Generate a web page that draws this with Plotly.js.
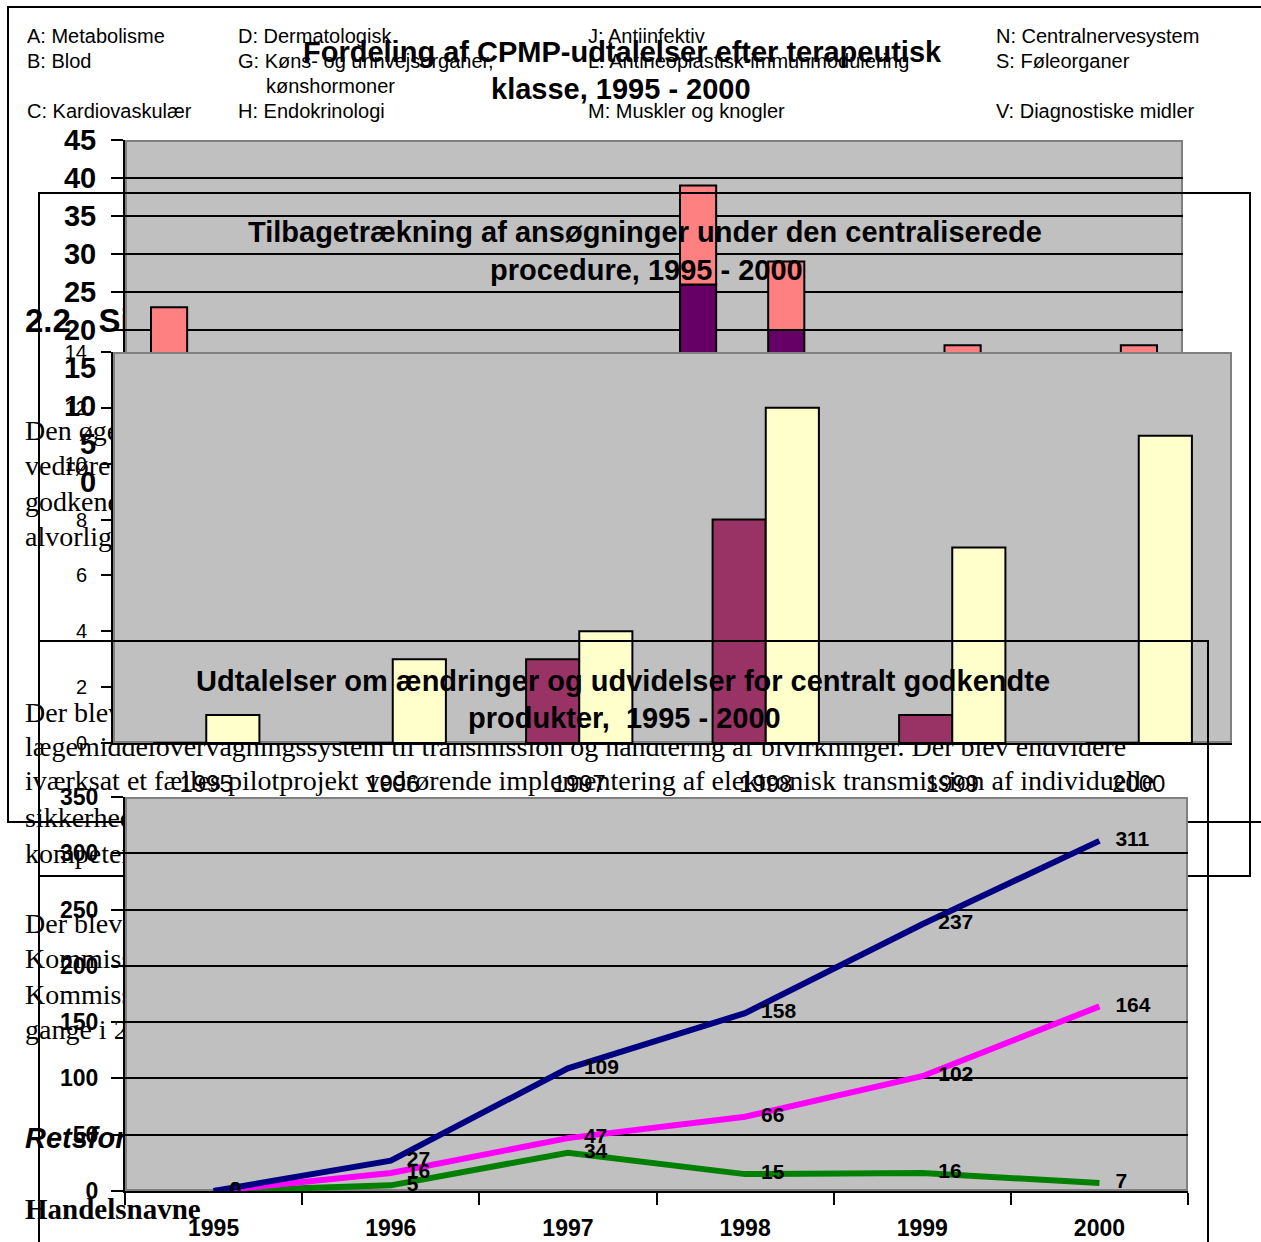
<!DOCTYPE html>
<html>
<head>
<meta charset="utf-8">
<script src="https://cdn.plot.ly/plotly-3.0.1.min.js"></script>
<style>
html,body{margin:0;padding:0;background:#ffffff;}
#chart{width:1261px;height:1242px;}
</style>
</head>
<body>
<div id="chart"></div>
<script>
// ---------------- data ----------------
// Chart 1: CPMP opinions by therapeutic class (stacked)
const classCategories = ['A','B','C','D','G','H','J','L','M','N','S','V'];
const classLower = [8, 5, 4, 2, 3, 4, 26, 20, 3, 7, 1, 4];     // dark purple
const classUpper = [15, 6, 8, 3, 4, 6, 13, 9, 5, 11, 2, 14];   // salmon (stacked on top)
const classLegend = [
  'A: Metabolisme', 'B: Blod', 'C: Kardiovaskulær',
  'D: Dermatologisk', 'G: Køns- og urinvejsorganer,', 'kønshormoner', 'H: Endokrinologi',
  'J: Antiinfektiv', 'L: Antineoplastisk-immunmodulering', 'M: Muskler og knogler',
  'N: Centralnervesystem', 'S: Føleorganer', 'V: Diagnostiske midler'
];

// Chart 2: withdrawals of applications
const years = ['1995', '1996', '1997', '1998', '1999', '2000'];
const withdrawSeriesA = [0, 0, 3, 8, 1, 0];     // purple
const withdrawSeriesB = [1, 3, 4, 12, 7, 11];   // light yellow

// Chart 3: opinions on variations / extensions
const variationsNavy = [0, 27, 109, 158, 237, 311];
const variationsMagenta = [0, 16, 47, 66, 102, 164];
const variationsGreen = [0, 5, 34, 15, 16, 7];

// Titles
const title1 = ['Fordeling af CPMP-udtalelser efter terapeutisk', 'klasse, 1995 - 2000'];
const title2 = ['Tilbagetrækning af ansøgninger under den centraliserede', 'procedure, 1995 - 2000'];
const title3 = ['Udtalelser om ændringer og udvidelser for centralt godkendte', 'produkter,  1995 - 2000'];

// Surrounding document text (page layer, partly hidden under the charts)
const bodyText = [
  'Den øgede', 'vedrørende', 'godkendte', 'alvorlige', 'Der blev endvidere',
  'lægemiddelovervågningssystem til transmission og håndtering af bivirkninger. Der blev endvidere',
  'iværksat et fælles pilotprojekt vedrørende implementering af elektronisk transmission af individuelle',
  'sikkerhedsrapporter', 'kompetente', 'Der blev endvidere', 'Kommissionen', 'Kommissionen', 'gange i 2000'
];
const headingText = ['2.2\u00a0\u00a0\u00a0Sikkerhed'];
const italicHeading = ['Retsforhold'];
const serifHeading = ['Handelsnavne'];

// ---------------- page geometry ----------------
const W = 1261, H = 1242;
const xd = (l, r) => [l / W, r / W];
const yd = (t, b) => [1 - b / H, 1 - t / H];
const SANS = 'Liberation Sans, Arial, sans-serif';
const SERIF = 'Liberation Serif, Times New Roman, serif';

const bodyX = [25, 25, 25, 25, 25, 25, 25, 25, 25, 25, 25, 25, 25];
const bodyY = [433, 468, 504, 539, 715, 749, 783, 820, 856, 926, 961, 997, 1032];

function pageAxis(range, anchor) {
  return {domain: [0, 1], range: range, anchor: anchor, visible: false,
          showgrid: false, zeroline: false, fixedrange: true, automargin: false};
}
function plotBg(xa, ya, xr, yr) {
  return {type: 'rect', xref: xa, yref: ya, x0: xr[0], x1: xr[1], y0: yr[0], y1: yr[1],
          fillcolor: '#C0C0C0', line: {color: '#808080', width: 4}, layer: 'below'};
}
function frame(xa, ya, x0, y0, x1, y1) {
  return {type: 'rect', xref: xa, yref: ya, x0: x0, y0: y0, x1: x1, y1: y1,
          fillcolor: 'rgba(0,0,0,0)', line: {color: '#000000', width: 2}, layer: 'below'};
}
const empty = (xa, ya) => ({type: 'scatter', x: [null], y: [null], xaxis: xa, yaxis: ya,
                             hoverinfo: 'skip', showlegend: false, mode: 'markers'});

const traces = [];

// ---- page layer 0 (under everything): document text ----
traces.push({
  type: 'scatter', mode: 'text', xaxis: 'x', yaxis: 'y',
  x: bodyX, y: bodyY, text: bodyText, textposition: 'middle right',
  textfont: {family: SERIF, size: 28, color: '#000'}, hoverinfo: 'skip', showlegend: false
});
traces.push({
  type: 'scatter', mode: 'text', xaxis: 'x', yaxis: 'y',
  x: [25], y: [324], text: headingText, textposition: 'middle right',
  textfont: {family: SANS, size: 33, color: '#000', weight: 'bold'}, hoverinfo: 'skip', showlegend: false
});
traces.push({
  type: 'scatter', mode: 'text', xaxis: 'x', yaxis: 'y',
  x: [25], y: [1141], text: italicHeading, textposition: 'middle right',
  textfont: {family: SANS, size: 29, color: '#000', weight: 'bold', style: 'italic'}, hoverinfo: 'skip', showlegend: false
});
traces.push({
  type: 'scatter', mode: 'text', xaxis: 'x', yaxis: 'y',
  x: [25], y: [1212], text: serifHeading, textposition: 'middle right',
  textfont: {family: SERIF, size: 29, color: '#000', weight: 'bold'}, hoverinfo: 'skip', showlegend: false
});

// ---- chart 1: stacked bars ----
traces.push({
  type: 'bar', name: 'Serie 1', x: classCategories, y: classLower, xaxis: 'x2', yaxis: 'y2',
  width: 0.41, offset: -0.205,
  marker: {color: '#660066', line: {color: '#000', width: 2}}, showlegend: false, hoverinfo: 'skip'
});
traces.push({
  type: 'bar', name: 'Serie 2', x: classCategories, y: classUpper, base: classLower, xaxis: 'x2', yaxis: 'y2',
  width: 0.41, offset: -0.205,
  marker: {color: '#FF8080', line: {color: '#000', width: 2}}, showlegend: false, hoverinfo: 'skip'
});

// ---- page layer 1 (frame of chart 2) ----
traces.push(empty('x3', 'y3'));

// ---- chart 2: grouped bars ----
traces.push({
  type: 'bar', name: 'Serie A', x: years, y: withdrawSeriesA, xaxis: 'x4', yaxis: 'y4',
  width: 0.285, offset: -0.285,
  marker: {color: '#993366', line: {color: '#000', width: 2}}, showlegend: false, hoverinfo: 'skip'
});
traces.push({
  type: 'bar', name: 'Serie B', x: years, y: withdrawSeriesB, xaxis: 'x4', yaxis: 'y4',
  width: 0.285, offset: 0,
  marker: {color: '#FFFFCC', line: {color: '#000', width: 2}}, showlegend: false, hoverinfo: 'skip'
});

// ---- page layer 2 (frame of chart 3) ----
traces.push(empty('x5', 'y5'));

// ---- chart 3: lines ----
function lineTrace(name, vals, color) {
  return {
    type: 'scatter', mode: 'lines+markers+text', name: name, x: years, y: vals,
    xaxis: 'x6', yaxis: 'y6', line: {color: color, width: 6},
    marker: {size: 24, color: 'rgba(0,0,0,0)'},
    text: vals.map(String), textposition: 'middle right',
    textfont: {family: SANS, size: 21, color: '#000', weight: 'bold'},
    showlegend: false, hoverinfo: 'skip'
  };
}
traces.push(lineTrace('Udvidelser', variationsGreen, '#008000'));
traces.push(lineTrace('Type II', variationsMagenta, '#FF00FF'));
traces.push(lineTrace('I alt', variationsNavy, '#000080'));

// ---------------- annotations ----------------
const annotations = [];
function addText(text, x, y, size, bold, anchor) {
  annotations.push({
    text: text, x: x, y: y, xref: 'x', yref: 'y', showarrow: false,
    xanchor: anchor, yanchor: 'middle',
    font: {family: SANS, size: size, color: '#000', weight: bold ? 'bold' : 'normal'}
  });
}
const legendX = [25, 25, 25, 236, 236, 264, 236, 586, 586, 586, 994, 994, 994];
const legendY = [36, 61, 111, 36, 61, 86, 111, 36, 61, 111, 36, 61, 111];
classLegend.forEach((t, i) => addText(t, legendX[i], legendY[i], 20, false, 'left'));
addText(title1[0], 622, 52, 29, true, 'center');
addText(title1[1], 621, 89, 29, true, 'center');
addText(title2[0], 645, 232, 29, true, 'center');
addText(title2[1], 646, 270, 29, true, 'center');
addText(title3[0], 623, 681, 29, true, 'center');
addText(title3[1], 624, 718, 29, true, 'center');

// ---------------- layout ----------------
const blackLine = {showline: true, linecolor: '#000', linewidth: 2, zeroline: false, automargin: false, fixedrange: true};

const layout = {
  width: W, height: H,
  margin: {l: 0, r: 0, t: 0, b: 0, pad: 0},
  paper_bgcolor: '#ffffff',
  plot_bgcolor: 'rgba(0,0,0,0)',
  barmode: 'group',
  showlegend: false,
  xaxis: pageAxis([0, W], 'y'),
  yaxis: pageAxis([H, 0], 'x'),
  xaxis3: pageAxis([0, W], 'y3'),
  yaxis3: pageAxis([H, 0], 'x3'),
  xaxis5: pageAxis([0, W], 'y5'),
  yaxis5: pageAxis([H, 0], 'x5'),

  xaxis2: Object.assign({}, blackLine, {
    domain: xd(125, 1183), anchor: 'y2', type: 'category', range: [-0.5, 11.5],
    ticks: '', showgrid: false, tickfont: {family: SANS, size: 20, color: '#000'}
  }),
  yaxis2: Object.assign({}, blackLine, {
    domain: yd(140, 482), anchor: 'x2', range: [0, 45], tick0: 0, dtick: 5,
    showgrid: true, gridcolor: '#000', gridwidth: 2,
    ticks: 'outside', ticklen: 12, tickwidth: 2, tickcolor: '#000', ticklabelstandoff: 9,
    tickfont: {family: SANS, size: 29, color: '#000', weight: 'bold'}
  }),

  xaxis4: Object.assign({}, blackLine, {
    domain: xd(113, 1232), anchor: 'y4', type: 'category', range: [-0.5, 5.5],
    ticks: '', showgrid: false, ticklabelstandoff: 18,
    tickfont: {family: SANS, size: 24, color: '#000'}
  }),
  yaxis4: Object.assign({}, blackLine, {
    domain: yd(352, 743), anchor: 'x4', range: [0, 14], tick0: 0, dtick: 2,
    showgrid: false, ticks: 'outside', ticklen: 10, tickwidth: 2, tickcolor: '#000',
    ticklabelstandoff: 10, tickfont: {family: SANS, size: 20, color: '#000'}
  }),

  xaxis6: Object.assign({}, blackLine, {
    domain: xd(125, 1188), anchor: 'y6', type: 'category', range: [-0.5, 5.5],
    ticks: 'outside', tickson: 'boundaries', ticklen: 12, tickwidth: 2, tickcolor: '#000',
    showgrid: false, ticklabelstandoff: 15,
    tickfont: {family: SANS, size: 23, color: '#000', weight: 'bold'}
  }),
  yaxis6: Object.assign({}, blackLine, {
    domain: yd(797, 1191), anchor: 'x6', range: [0, 350], tick0: 0, dtick: 50,
    showgrid: true, gridcolor: '#000', gridwidth: 2,
    ticks: 'outside', ticklen: 12, tickwidth: 2, tickcolor: '#000', ticklabelstandoff: 8,
    tickfont: {family: SANS, size: 23, color: '#000', weight: 'bold'}
  }),

  shapes: [
    frame('x', 'y', 8, 7, 1300, 822),
    plotBg('x2', 'y2', [-0.5, 11.5], [0, 45]),
    frame('x3', 'y3', 39, 193, 1250, 876),
    plotBg('x4', 'y4', [-0.5, 5.5], [0, 14]),
    frame('x5', 'y5', 39, 641, 1208, 1300),
    plotBg('x6', 'y6', [-0.5, 5.5], [0, 350])
  ],
  annotations: annotations
};

Plotly.newPlot('chart', traces, layout, {displayModeBar: false, staticPlot: true});
</script>
</body>
</html>
